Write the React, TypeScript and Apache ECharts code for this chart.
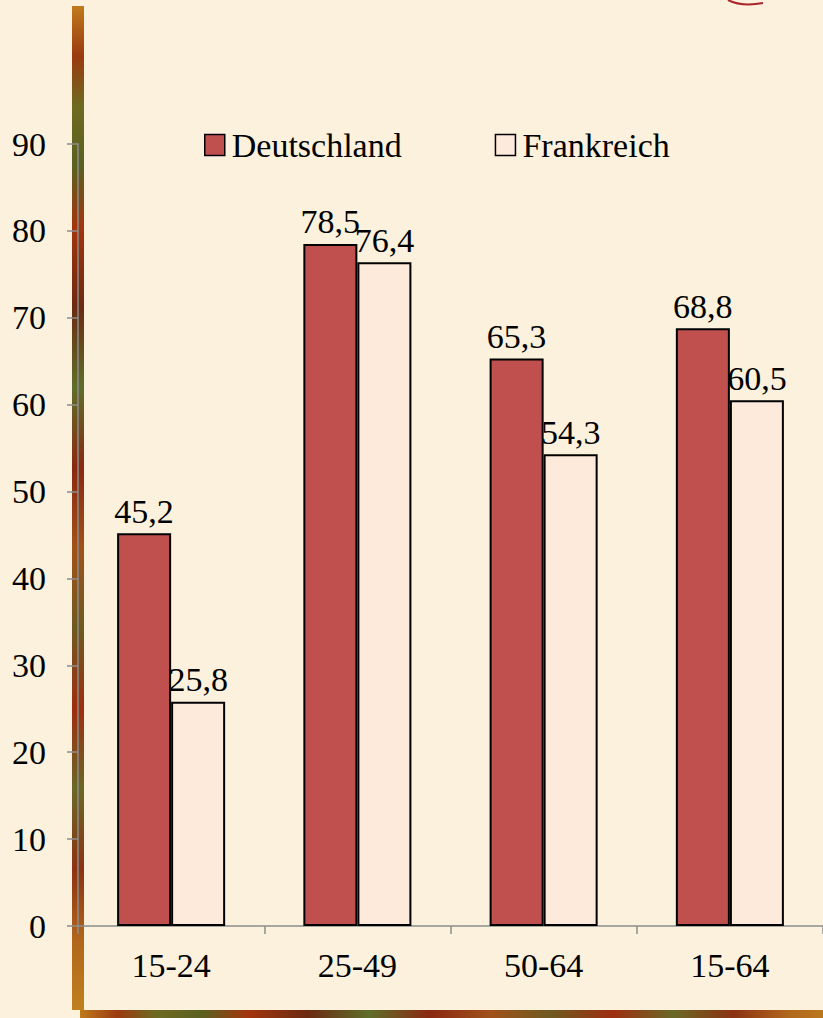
import React, { useEffect, useRef } from "react";
import * as echarts from "echarts";

const categories = ["15-24", "25-49", "50-64", "15-64"];
const deutschland = [45.2, 78.5, 65.3, 68.8];
const frankreich = [25.8, 76.4, 54.3, 60.5];
const seriesNames = ["Deutschland", "Frankreich"];

const FONT = "Liberation Serif";
const FS = 34;

export default function App() {
  const ref = useRef<HTMLDivElement>(null);
  useEffect(() => {
    if (!ref.current) return;
    const chart = echarts.init(ref.current, null, { renderer: "svg" });
    const fmt = (p: any) => String(p.value).replace(".", ",");
    const stripGrad = (vertical: boolean) =>
      new echarts.graphic.LinearGradient(0, 0, vertical ? 0 : 1, vertical ? 1 : 0, [
        { offset: 0, color: "#C07A1C" },
        { offset: 0.05, color: "#9A3A10" },
        { offset: 0.1, color: "#6E6A22" },
        { offset: 0.16, color: "#5A6020" },
        { offset: 0.22, color: "#A3350E" },
        { offset: 0.3, color: "#6B2A12" },
        { offset: 0.38, color: "#5E6E2A" },
        { offset: 0.46, color: "#8A2812" },
        { offset: 0.54, color: "#A0521A" },
        { offset: 0.62, color: "#6E5A20" },
        { offset: 0.7, color: "#9E2E10" },
        { offset: 0.78, color: "#6A6826" },
        { offset: 0.86, color: "#8C3212" },
        { offset: 0.93, color: "#B0661C" },
        { offset: 1, color: "#C0801E" },
      ]);
    const labelStyle = {
      show: true,
      position: "top",
      distance: 5,
      formatter: fmt,
      fontFamily: FONT,
      fontSize: FS,
      color: "#000",
    };
    chart.setOption({
      animation: false,
      backgroundColor: "#FBF1DC",
      graphic: [
        {
          type: "rect",
          shape: { x: 72, y: 6, width: 12, height: 1004 },
          style: { fill: stripGrad(true) },
          z: -1,
        },
        {
          type: "rect",
          shape: { x: 80, y: 1010, width: 760, height: 10 },
          style: { fill: stripGrad(false) },
          z: -1,
        },
        {
          type: "bezierCurve",
          shape: { x1: 728, y1: 0, x2: 763, y2: 3, cpx1: 740, cpy1: 6, cpx2: 752, cpy2: 5 },
          style: { stroke: "#A8262A", lineWidth: 2, fill: "none" },
        },
      ],
      legend: {
        data: seriesNames,
        left: 204,
        top: 128,
        padding: 0,
        itemWidth: 20,
        itemHeight: 21,
        itemGap: 93,
        icon: "rect",
        itemStyle: { borderColor: "#000", borderWidth: 1.5 },
        textStyle: { fontFamily: FONT, fontSize: FS, color: "#000", padding: [0, 0, 0, 2] },
      },
      grid: { left: 78, top: 144, width: 751, bottom: 92, containLabel: false },
      xAxis: {
        type: "category",
        data: categories,
        axisLine: { lineStyle: { color: "#8C8C8C", width: 1.5 } },
        axisTick: { show: true, length: 8, lineStyle: { color: "#8C8C8C", width: 1.5 } },
        axisLabel: { fontFamily: FONT, fontSize: FS, color: "#000", margin: 22 },
      },
      yAxis: {
        type: "value",
        min: 0,
        max: 90,
        interval: 10,
        splitLine: { show: false },
        axisLine: { show: true, lineStyle: { color: "#8C8C8C", width: 1.5 } },
        axisTick: { show: true, length: 11, lineStyle: { color: "#8C8C8C", width: 1.5 } },
        axisLabel: { fontFamily: FONT, fontSize: FS, color: "#000", margin: 32 },
      },
      series: [
        {
          name: seriesNames[0],
          type: "bar",
          data: deutschland,
          barGap: "0%",
          barCategoryGap: "42%",
          itemStyle: { color: "#C0504D", borderColor: "#000", borderWidth: 2 },
          label: labelStyle,
        },
        {
          name: seriesNames[1],
          type: "bar",
          data: frankreich,
          itemStyle: { color: "#FDEADA", borderColor: "#000", borderWidth: 2 },
          label: labelStyle,
        },
      ],
    });
    return () => chart.dispose();
  }, []);
  return (
    <div
      ref={ref}
      style={{ position: "absolute", left: 0, top: 0, width: 823, height: 1018 }}
    />
  );
}
